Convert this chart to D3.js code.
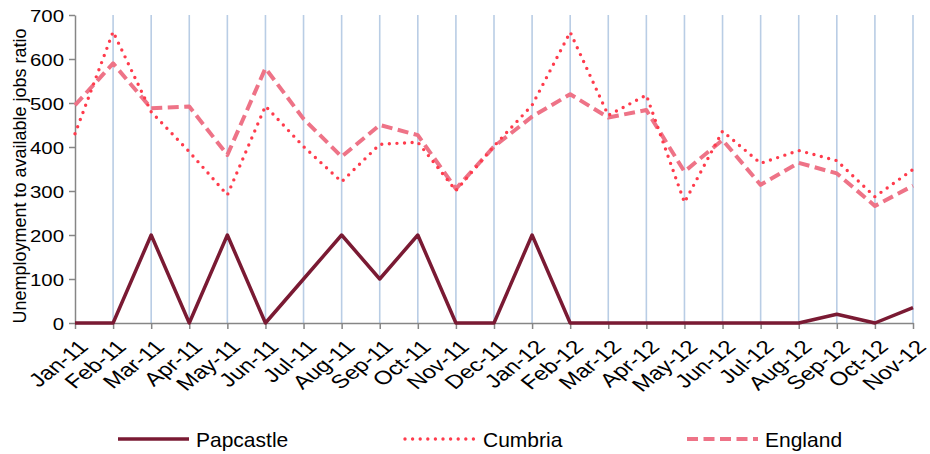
<!DOCTYPE html>
<html>
<head>
<meta charset="utf-8">
<script src="https://cdn.jsdelivr.net/npm/d3@7"></script>
<style>
  html, body { margin: 0; padding: 0; background: #fff; }
  svg { display: block; font-family: "Liberation Sans", Arial, sans-serif; }
</style>
</head>
<body>
<svg id="chart" width="930" height="454"></svg>
<script>
const months = ["Jan-11","Feb-11","Mar-11","Apr-11","May-11","Jun-11","Jul-11","Aug-11","Sep-11","Oct-11","Nov-11","Dec-11",
                "Jan-12","Feb-12","Mar-12","Apr-12","May-12","Jun-12","Jul-12","Aug-12","Sep-12","Oct-12","Nov-12"];
const papcastle = [0,0,200,0,200,0,100,200,100,200,0,0,200,0,0,0,0,0,0,0,20,0,35];
const cumbria   = [430,662,480,389,291,493,401,321,406,411,301,402,495,661,472,518,274,436,363,392,369,287,349];
const england   = [495,590,488,492,382,579,464,378,450,427,305,401,469,520,467,484,344,416,314,364,340,266,312];
const yTicks = [0,100,200,300,400,500,600,700];
const seriesNames = ["Papcastle","Cumbria","England"];

const svg = d3.select("#chart");
const pLeft = 75, pRight = 913, pTop = 15, pBottom = 323;

const x = d3.scalePoint().domain(months).range([pLeft, pRight]);
const y = d3.scaleLinear().domain([0, 700]).range([pBottom, pTop]);

// vertical gridlines
svg.append("g").selectAll("line").data(months.slice(1)).join("line")
  .attr("x1", d => x(d)).attr("x2", d => x(d))
  .attr("y1", pTop).attr("y2", pBottom)
  .attr("stroke", "#B9CDE5").attr("stroke-width", 1.6);

// y axis
const yAxis = svg.append("g").attr("transform", `translate(${pLeft},0)`)
  .call(d3.axisLeft(y).tickValues(yTicks).tickSize(6).tickSizeOuter(0).tickPadding(5));
yAxis.select(".domain").attr("stroke", "#868686").attr("stroke-width", 1.5);
yAxis.selectAll(".tick line").attr("stroke", "#868686").attr("stroke-width", 1.5);
yAxis.selectAll(".tick text")
  .attr("font-size", 17).attr("fill", "#000")
  .attr("font-family", "Liberation Sans, Arial, sans-serif")
  .attr("x", 0).attr("dy", "0.36em")
  .attr("transform", "translate(-11,0) scale(1.2,1)");

// x axis
const xAxis = svg.append("g").attr("transform", `translate(0,${pBottom})`)
  .call(d3.axisBottom(x).tickSize(6).tickSizeOuter(0));
xAxis.select(".domain").attr("stroke", "#868686").attr("stroke-width", 1.5);
xAxis.selectAll(".tick line").attr("stroke", "#868686").attr("stroke-width", 1.5);
xAxis.selectAll(".tick text")
  .attr("font-size", 19).attr("fill", "#000")
  .attr("font-family", "Liberation Sans, Arial, sans-serif")
  .attr("text-anchor", "end")
  .attr("dy", 0)
  .attr("y", 0)
  .attr("transform", "translate(14,25) scale(1.27,1) rotate(-45)");

// y title
svg.append("text")
  .attr("transform", "translate(26,176) rotate(-90)")
  .attr("text-anchor", "middle")
  .attr("font-size", 18)
  .text("Unemployment to available jobs ratio");

const line = d3.line().x((d, i) => x(months[i])).y(d => y(d));

const styles = [
  { data: papcastle, color: "#7A1A33", width: 3.5, dash: null, cap: "butt" },
  { data: cumbria,   color: "#FF3B4C", width: 3.4, dash: "0 7.6", cap: "round" },
  { data: england,   color: "#EE7387", width: 4,   dash: "11 5.5", cap: "butt" }
];

// England first, then Cumbria, then Papcastle on top
[2, 1, 0].forEach(k => {
  const s = styles[k];
  const p = svg.append("path").datum(s.data)
    .attr("d", line).attr("fill", "none")
    .attr("stroke", s.color).attr("stroke-width", s.width)
    .attr("stroke-linecap", s.cap).attr("stroke-linejoin", "round");
  if (s.dash) p.attr("stroke-dasharray", s.dash);
});

// legend
const legX = [118, 405, 687];
const lg = svg.append("g");
seriesNames.forEach((name, k) => {
  const s = styles[k];
  const l = lg.append("line")
    .attr("x1", legX[k]).attr("x2", legX[k] + 71)
    .attr("y1", 439).attr("y2", 439)
    .attr("stroke", s.color).attr("stroke-width", s.width)
    .attr("stroke-linecap", s.cap);
  if (s.dash) l.attr("stroke-dasharray", s.dash);
  lg.append("text").attr("x", legX[k] + 78).attr("y", 446.5)
    .attr("font-size", 21).text(name);
});
</script>
</body>
</html>
